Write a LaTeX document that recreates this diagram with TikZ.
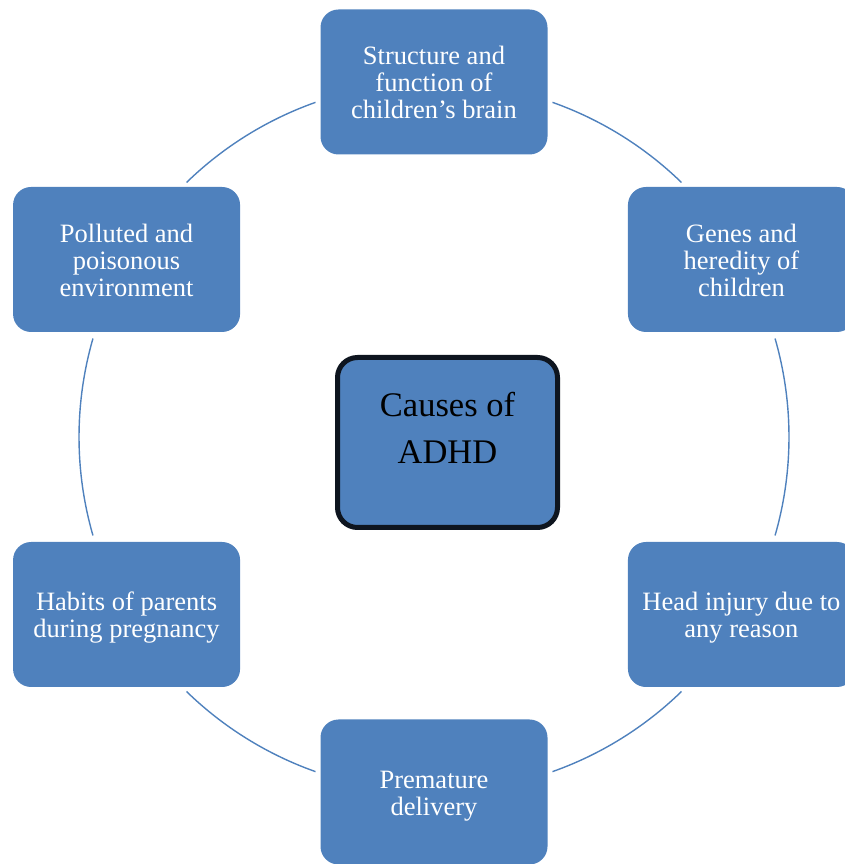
\documentclass[tikz,border=0pt]{standalone}
\usepackage{fontspec}
\setmainfont{Liberation Serif}
\usetikzlibrary{positioning}
\definecolor{cause}{HTML}{4F81BD}
\definecolor{rim}{HTML}{0E151F}
\newcommand\topstrut{\rule{0pt}{29pt}}
\newcommand\botstrut{\rule[-9pt]{0pt}{9pt}}

\begin{document}
\begin{tikzpicture}[x=1pt, y=1pt,
  causebox/.style={
    fill=cause, rounded corners=18pt, text=white, align=center,
    minimum width=227pt, minimum height=145pt, inner sep=0pt,
    font=\fontsize{26.5}{27}\selectfont
  },
  ring/.style={draw=cause, line width=1.4pt}]
\useasboundingbox (0,0) rectangle (845,864);
\coordinate (hub) at (434,427);
% the ring between the boxes
\foreach \from/\to in {70.5/45.8, 16.1/-16.1, -45.8/-70.5,
                       -109.5/-134.2, -163.9/-196.1, 134.2/109.5}
  \draw[ring] (hub) ++(\from:355) arc[start angle=\from, end angle=\to, radius=355];
% six causes round the ring
\foreach \ang/\name/\txt in {
    90/brain/{Structure and\\function of\\children’s brain},
    30/genes/{Genes and\\heredity of\\children},
   -30/injury/{Head injury due to\\any reason},
   -90/premature/{Premature\\delivery},
  -150/habits/{Habits of parents\\during pregnancy},
   150/polluted/{Polluted and\\poisonous\\environment}}
  \path (hub) ++(\ang:355) node[causebox] (\name) {\topstrut\txt\botstrut};
% centre
\node[fill=cause, draw=rim, line width=5pt, rounded corners=20pt,
  minimum width=220pt, minimum height=170pt] (adhd) at (447.5,421.5) {};
\node[align=center, font=\fontsize{34.5}{47}\selectfont]
  (adhdtext) at ([yshift=15pt]adhd.center) {Causes of\\ADHD};
\end{tikzpicture}
\end{document}
